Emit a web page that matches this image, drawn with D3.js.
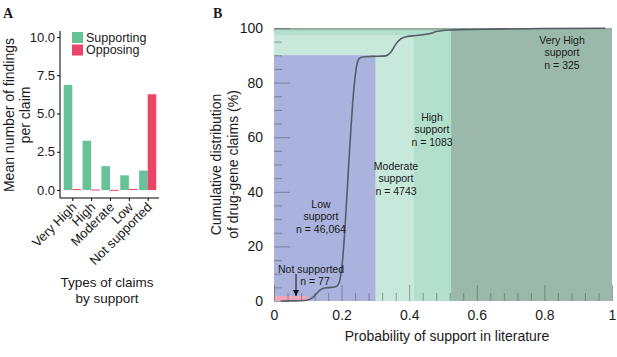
<!DOCTYPE html>
<html>
<head>
<meta charset="utf-8">
<script src="https://cdn.jsdelivr.net/npm/d3@7"></script>
<style>
body { margin: 0; background: #fff; }
text { font-family: "Liberation Sans", Arial, sans-serif; fill: #1a1a1a; }
.panel-letter { font-family: "Liberation Serif", "Times New Roman", serif; font-weight: bold; font-size: 14px; }
</style>
</head>
<body>
<div id="plot"></div>
<script>
// panel A data
let categories = ['Very High', 'High', 'Moderate', 'Low', 'Not supported'];
let supporting = [6.87, 3.22, 1.56, 0.96, 1.27];
let opposing = [0.06, 0.03, 0.01, 0.07, 6.26];
let yTicksA = [0, 2.5, 5, 7.5, 10];

// panel B data
let probs = [0.02, 0.06, 0.09, 0.105, 0.115, 0.125, 0.135, 0.145, 0.16, 0.18, 0.19, 0.197, 0.203, 0.209, 0.215, 0.221, 0.227, 0.233, 0.239, 0.245, 0.252, 0.262, 0.29, 0.33, 0.345, 0.36, 0.375, 0.39, 0.41, 0.44, 0.465, 0.48, 0.5, 0.55, 0.65, 0.8, 0.98];
let cumulative = [0, 0.05, 0.2, 0.6, 1.3, 2.6, 3.9, 4.6, 4.9, 5.1, 6.0, 9, 15, 25, 37, 50, 62, 73, 81, 86.5, 88.8, 89.4, 89.6, 89.8, 91, 94, 96, 96.8, 97.1, 97.5, 98.1, 98.7, 99.1, 99.4, 99.6, 99.8, 99.9];
let regionNames = ['Very High support', 'High support', 'Moderate support', 'Low support', 'Not supported'];
let regionEnd = [1, 0.524, 0.414, 0.3, 0.1];
let regionTop = [100, 99.2, 97.4, 90, 1.8];
let regionCounts = [325, 1083, 4743, 46064, 77];

let svg = d3.select('#plot')
            .append('svg')
                .attr('width', 617)
                .attr('height', 357);

// ---------- panel A ----------
let xA = d3.scalePoint()
            .domain(categories)
            .range([61, 159])
            .padding(0.6);
let yA = d3.scaleLinear()
            .domain([0, 10])
            .range([190, 37]);
let barW = 8.6;

let gA = svg.append('g');

categories.forEach(function(c, i){
    gA.append('rect')
        .attr('x', xA(c) - barW)
        .attr('y', yA(supporting[i]))
        .attr('width', barW)
        .attr('height', yA(0) - yA(supporting[i]))
        .attr('fill', '#67c297');
    gA.append('rect')
        .attr('x', xA(c))
        .attr('y', yA(opposing[i]))
        .attr('width', barW)
        .attr('height', Math.max(1, yA(0) - yA(opposing[i])))
        .attr('fill', '#ea4468');
});

gA.append('g')
    .attr('transform', 'translate(60,0)')
    .call(d3.axisLeft(yA).tickValues(yTicksA).tickFormat(d3.format('.1f')).tickSize(3).tickPadding(2))
    .call(g => g.select('.domain').attr('d', 'M0,31V198'))
    .call(g => g.selectAll('text').attr('font-size', 13).attr('font-family', 'Liberation Sans, Arial').attr('fill', '#1a1a1a'));

gA.append('g')
    .attr('transform', 'translate(0,198)')
    .call(d3.axisBottom(xA).tickSize(3).tickFormat(''))
    .call(g => g.select('.domain').attr('d', 'M60,0H159'));

// rotated category labels, ending just under each tick
categories.forEach(function(c){
    gA.append('text')
        .attr('transform', `translate(${xA(c) + 5},${208}) rotate(-45)`)
        .attr('text-anchor', 'end')
        .attr('font-size', 13)
        .text(c);
});

// legend
['Supporting', 'Opposing'].forEach(function(s, i){
    gA.append('rect')
        .attr('x', 72)
        .attr('y', 32 + i * 12.5)
        .attr('width', 11)
        .attr('height', 11)
        .attr('fill', i === 0 ? '#67c297' : '#ea4468');
    gA.append('text')
        .attr('x', 86)
        .attr('y', 41.5 + i * 12.5)
        .attr('font-size', 12.5)
        .text(s);
});

gA.append('text')
    .attr('transform', 'translate(14,115) rotate(-90)')
    .attr('text-anchor', 'middle')
    .attr('font-size', 14)
    .text('Mean number of findings');
gA.append('text')
    .attr('transform', 'translate(30,115) rotate(-90)')
    .attr('text-anchor', 'middle')
    .attr('font-size', 14)
    .text('per claim');

gA.append('text').attr('x', 107).attr('y', 287).attr('text-anchor', 'middle').attr('font-size', 13.5).text('Types of claims');
gA.append('text').attr('x', 107).attr('y', 303).attr('text-anchor', 'middle').attr('font-size', 13.5).text('by support');

svg.append('text').attr('class', 'panel-letter').attr('x', 3).attr('y', 18).text('A');
svg.append('text').attr('class', 'panel-letter').attr('x', 213).attr('y', 18).text('B');

// ---------- panel B ----------
let xB = d3.scaleLinear().domain([0, 1]).range([274, 612]);
let yB = d3.scaleLinear().domain([0, 100]).range([301, 28]);
let regionColors = ['#9bb9ab', '#b3dfcd', '#c8e8dc', '#a9b3dd', '#f3a6b8'];

let gB = svg.append('g');

regionNames.forEach(function(r, i){
    gB.append('rect')
        .attr('x', xB(0))
        .attr('y', yB(regionTop[i]))
        .attr('width', xB(regionEnd[i]) - xB(0))
        .attr('height', yB(0) - yB(regionTop[i]))
        .attr('fill', regionColors[i]);
});
// thin darker strip at the very top
gB.append('rect')
    .attr('x', xB(0)).attr('y', yB(100))
    .attr('width', xB(1) - xB(0)).attr('height', 1.5)
    .attr('fill', '#8fae9f');

let xTicksB = d3.range(0, 1.0001, 0.04).map(d => +d.toFixed(2));
let yTicksB = d3.range(0, 101, 5);

let axB = gB.append('g')
    .attr('transform', `translate(0,${yB(0)})`)
    .call(d3.axisBottom(xB).tickValues(xTicksB)
        .tickSize(0).tickPadding(9)
        .tickFormat(d => (Math.round(d * 100) % 20 === 0) ? d3.format('')(d) : ''));
axB.select('.domain').remove();
axB.selectAll('.tick line')
    .attr('y2', d => (Math.round(d * 100) % 20 === 0) ? -16 : -8)
    .attr('stroke', '#5b6068').attr('stroke-opacity', 0.6);
axB.selectAll('text').attr('font-size', 14).attr('fill', '#2a2a2a');

let ayB = gB.append('g')
    .attr('transform', `translate(${xB(0)},0)`)
    .call(d3.axisLeft(yB).tickValues(yTicksB)
        .tickSize(0).tickPadding(11)
        .tickFormat(d => d % 20 === 0 ? d : ''));
ayB.select('.domain').remove();
ayB.selectAll('.tick line')
    .attr('x2', d => d % 20 === 0 ? 16 : 8)
    .attr('stroke', '#5b6068').attr('stroke-opacity', 0.6);
ayB.selectAll('text').attr('font-size', 14).attr('fill', '#2a2a2a');

let line = d3.line()
    .x((d, i) => xB(probs[i]))
    .y(d => yB(d))
    .curve(d3.curveMonotoneX);

gB.append('path')
    .attr('d', line(cumulative))
    .attr('fill', 'none')
    .attr('stroke', '#545c66')
    .attr('stroke-width', 1.6);

// annotations
let notes = [
    {lines: ['Very High', 'support', 'n = 325'], x: 562, y: 44},
    {lines: ['High', 'support', 'n = 1083'], x: 432, y: 121},
    {lines: ['Moderate', 'support', 'n = 4743'], x: 396, y: 170},
    {lines: ['Low', 'support', 'n = 46,064'], x: 321, y: 208},
    {lines: ['Not supported', 'n = 77'], x: 311, y: 273}
];
notes.forEach(function(n, k){
    n.lines.forEach(function(t, j){
        gB.append('text')
            .attr('x', k === 4 && j === 1 ? n.x + 4 : n.x)
            .attr('y', n.y + j * 12.3)
            .attr('text-anchor', 'middle')
            .attr('font-size', 10.5)
            .text(t);
    });
});

svg.append('defs').append('marker')
    .attr('id', 'arr')
    .attr('viewBox', '0 0 10 10')
    .attr('refX', 10).attr('refY', 5)
    .attr('markerWidth', 6).attr('markerHeight', 6)
    .attr('orient', 'auto')
    .append('path').attr('d', 'M0,0L10,5L0,10z').attr('fill', '#111');

gB.append('line')
    .attr('x1', 296).attr('x2', 296)
    .attr('y1', 274).attr('y2', 296)
    .attr('stroke', '#111').attr('stroke-width', 1)
    .attr('marker-end', 'url(#arr)');

gB.append('text')
    .attr('transform', `translate(221,${(yB(0) + yB(100)) / 2}) rotate(-90)`)
    .attr('text-anchor', 'middle').attr('font-size', 14).attr('fill', '#2a2a2a')
    .text('Cumulative distribution');
gB.append('text')
    .attr('transform', `translate(238,${(yB(0) + yB(100)) / 2}) rotate(-90)`)
    .attr('text-anchor', 'middle').attr('font-size', 14).attr('fill', '#2a2a2a')
    .text('of drug-gene claims (%)');
gB.append('text')
    .attr('x', 447).attr('y', 341)
    .attr('text-anchor', 'middle').attr('font-size', 14).attr('fill', '#2a2a2a')
    .text('Probability of support in literature');
</script>
</body>
</html>
